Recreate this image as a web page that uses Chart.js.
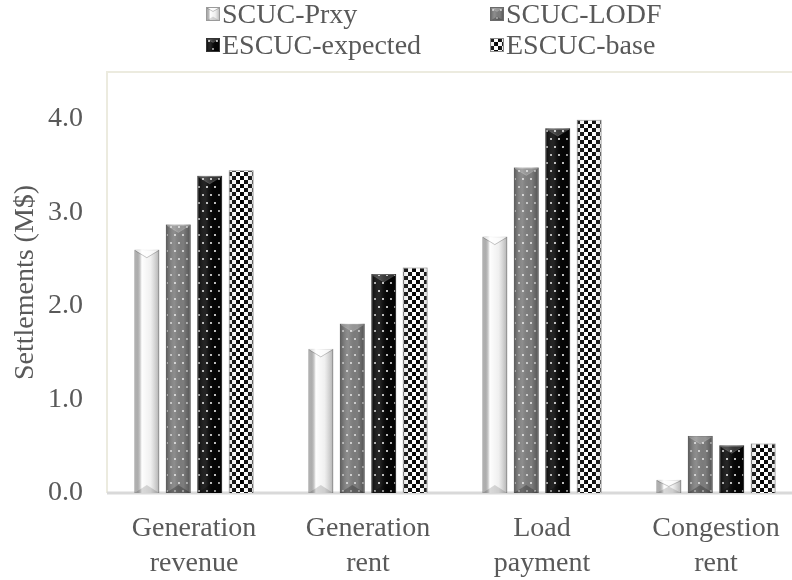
<!DOCTYPE html>
<html lang="en">
<head>
<meta charset="utf-8">
<title>Settlements</title>
<style>
  html, body { margin: 0; padding: 0; background: #fff; overflow: hidden; }
  #wrap { position: relative; width: 810px; height: 580px; }
  #legend {
    position: absolute; left: 206px; top: -2px;
    display: grid; grid-template-columns: 284px 220px;
    font-family: "Liberation Serif", "Times New Roman", serif;
    font-size: 28px; line-height: 31px; color: #595959;
  }
  .item { display: flex; align-items: center; white-space: nowrap; }
  .item canvas { width: 14px; height: 14px; margin-right: 2px; }
</style>
</head>
<body>
<div id="wrap">
  <canvas id="chart" width="810" height="580"></canvas>
  <div id="legend"></div>
</div>
<script src="https://cdn.jsdelivr.net/npm/chart.js"></script>
<script>
  let categories = [["Generation", "revenue"], ["Generation", "rent"], ["Load", "payment"], ["Congestion", "rent"]];
  let seriesNames = ["SCUC-Prxy", "SCUC-LODF", "ESCUC-expected", "ESCUC-base"];
  let scucPrxy = [2.60, 1.54, 2.74, 0.14];
  let scucLodf = [2.87, 1.81, 3.48, 0.61];
  let escucExpected = [3.39, 2.34, 3.90, 0.51];
  let escucBase = [3.45, 2.41, 3.99, 0.53];
  let yTicks = [0, 1, 2, 3, 4];

  // tile fills for the four series
  let makeTile = function (kind) {
    let c = document.createElement("canvas");
    let g = c.getContext("2d");
    if (kind == "checker") {
      c.width = 8; c.height = 8;
      g.fillStyle = "#fff"; g.fillRect(0, 0, 8, 8);
      g.fillStyle = "#000";
      g.fillRect(0, 0, 4, 4); g.fillRect(4, 4, 4, 4);
      return c;
    }
    c.width = 16; c.height = 16;
    g.fillStyle = kind == "gray" ? "#7d7d7d" : "#050505";
    g.fillRect(0, 0, 16, 16);
    g.fillStyle = kind == "gray" ? "#d0d0d0" : "#c0c0c0";
    [[3, 3], [11, 3], [7, 11], [15, 11]].forEach(function (d) {
      g.fillRect(d[0] - 1, d[1] - 1, 2, 2);
    });
    return c;
  };
  let kinds = ["plain", "gray", "black", "checker"];
  let fillFor = function (ctx, i) {
    if (i == 0) return "#ececec";
    return ctx.createPattern(makeTile(kinds[i]), "repeat");
  };

  // bevel shading drawn over a bar
  let shadeBar = function (ctx, i, left, top, w, h) {
    let grad = ctx.createLinearGradient(left, 0, left + w, 0);
    if (i == 0) {
      grad.addColorStop(0, "rgba(0,0,0,0.15)");
      grad.addColorStop(0.3, "rgba(255,255,255,0.95)");
      grad.addColorStop(0.65, "rgba(255,255,255,0.2)");
      grad.addColorStop(1, "rgba(0,0,0,0.25)");
    } else if (i == 3) {
      grad.addColorStop(0, "rgba(128,128,128,0.25)");
      grad.addColorStop(0.5, "rgba(255,255,255,0)");
      grad.addColorStop(1, "rgba(128,128,128,0.25)");
    } else {
      grad.addColorStop(0, "rgba(0,0,0,0.3)");
      grad.addColorStop(0.35, "rgba(255,255,255,0.12)");
      grad.addColorStop(0.7, "rgba(0,0,0,0)");
      grad.addColorStop(1, "rgba(0,0,0,0.35)");
    }
    ctx.fillStyle = grad;
    ctx.fillRect(left, top, w, h);
    if (i == 3) return;
    let d = Math.min(w * 0.32, h / 2);
    let cx = left + w / 2;
    ctx.beginPath();
    ctx.moveTo(left, top); ctx.lineTo(cx, top + d); ctx.lineTo(left + w, top);
    ctx.closePath();
    ctx.fillStyle = i == 0 ? "rgba(255,255,255,0.75)" : "rgba(255,255,255,0.2)";
    ctx.fill();
    ctx.beginPath();
    ctx.moveTo(left + 1, top + 1); ctx.lineTo(cx, top + d); ctx.lineTo(left + w - 1, top + 1);
    ctx.strokeStyle = i == 0 ? "rgba(0,0,0,0.22)" : "rgba(255,255,255,0.18)";
    ctx.lineWidth = 1;
    ctx.stroke();
    ctx.beginPath();
    ctx.moveTo(left, top + h); ctx.lineTo(cx, top + h - d); ctx.lineTo(left + w, top + h);
    ctx.closePath();
    ctx.fillStyle = i == 0 ? "rgba(0,0,0,0.14)" : "rgba(0,0,0,0.25)";
    ctx.fill();
  };

  let bevelPlugin = {
    id: "bevel",
    afterDatasetsDraw: function (chart) {
      let ctx = chart.ctx;
      ctx.save();
      chart.data.datasets.forEach(function (ds, i) {
        chart.getDatasetMeta(i).data.forEach(function (bar) {
          let p = bar.getProps(["x", "y", "base", "width"], true);
          shadeBar(ctx, i, p.x - p.width / 2, p.y, p.width, p.base - p.y);
        });
      });
      ctx.restore();
    },
  };

  let framePlugin = {
    id: "frame",
    beforeDatasetsDraw: function (chart) {
      let a = chart.chartArea;
      let ctx = chart.ctx;
      ctx.save();
      ctx.lineWidth = 2;
      ctx.strokeStyle = "#ecebdf";
      ctx.beginPath();
      ctx.moveTo(a.left, a.bottom); ctx.lineTo(a.left, a.top); ctx.lineTo(a.right, a.top);
      ctx.stroke();
      ctx.strokeStyle = "#d9d9d9";
      ctx.lineWidth = 3;
      ctx.beginPath();
      ctx.moveTo(a.left, a.bottom); ctx.lineTo(a.right, a.bottom);
      ctx.stroke();
      ctx.restore();
    },
  };

  let canvas = document.getElementById("chart");
  let ctx = canvas.getContext("2d");
  let values = [scucPrxy, scucLodf, escucExpected, escucBase];
  let borders = ["#9a9a9a", "#6a6a6a", "#333333", "#8a8a8a"];

  Chart.defaults.font.family = '"Liberation Serif", "Times New Roman", serif';
  Chart.defaults.color = "#595959";

  new Chart(canvas, {
    type: "bar",
    data: {
      labels: categories,
      datasets: seriesNames.map(function (name, i) {
        return {
          label: name,
          data: values[i],
          backgroundColor: fillFor(ctx, i),
          borderColor: borders[i],
          borderWidth: 1,
          barPercentage: 0.79,
          categoryPercentage: 0.723,
        };
      }),
    },
    plugins: [framePlugin, bevelPlugin],
    options: {
      responsive: false,
      animation: false,
      layout: { padding: { top: 72, right: 7, left: 0, bottom: 0 } },
      plugins: { legend: { display: false }, tooltip: { enabled: false } },
      scales: {
        x: {
          grid: { display: false, drawTicks: false },
          border: { display: false },
          ticks: { font: { size: 28, lineHeight: 1.25 }, padding: 18, color: "#595959" },
          afterFit: function (scale) { scale.height = 87; },
        },
        y: {
          min: 0,
          max: 4.5,
          grid: { display: false, drawTicks: false },
          border: { display: false },
          afterBuildTicks: function (scale) {
            scale.ticks = yTicks.map(function (v) { return { value: v }; });
          },
          ticks: {
            font: { size: 28 },
            padding: 24,
            color: "#595959",
            callback: function (v) { return Number(v).toFixed(1); },
          },
          title: {
            display: true,
            text: "Settlements (M$)",
            font: { size: 28 },
            color: "#595959",
            padding: { top: 9, bottom: 0 },
          },
          afterFit: function (scale) { scale.width = 107; },
        },
      },
    },
  });

  // legend laid out in two columns
  let legend = document.getElementById("legend");
  seriesNames.forEach(function (name, i) {
    let item = document.createElement("div");
    item.className = "item";
    let sw = document.createElement("canvas");
    sw.width = 14; sw.height = 14;
    let sc = sw.getContext("2d");
    sc.fillStyle = fillFor(sc, i);
    sc.fillRect(0, 0, 14, 14);
    shadeBar(sc, i, 0, 0, 14, 14);
    sc.strokeStyle = borders[i];
    sc.strokeRect(0.5, 0.5, 13, 13);
    let label = document.createElement("span");
    label.textContent = name;
    item.appendChild(sw);
    item.appendChild(label);
    legend.appendChild(item);
  });
</script>
</body>
</html>
